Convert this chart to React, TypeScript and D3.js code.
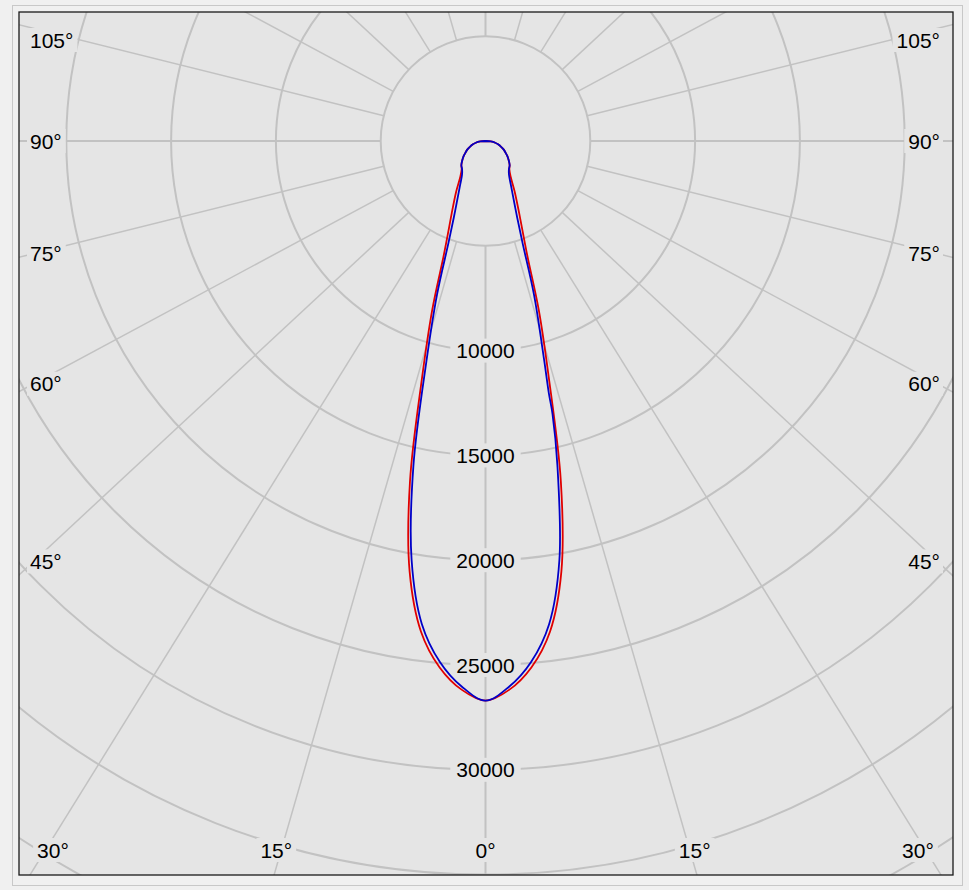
import React from 'react';
import * as d3 from 'd3';

// Gamma angles (degrees) and luminous intensities (cd) for each C-plane
const gammaDeg = [0, 2.5, 5, 7.5, 10, 12.5, 15, 17.5, 20, 22.5, 25, 30, 35, 40, 45, 50, 55, 60, 65, 70, 75, 80, 85, 90];
// red: C0 (right) / C180 (left)
const c0Values = [26700, 26200, 25200, 23600, 20850, 16600, 11650, 8450, 5850, 4600, 3800, 2780, 2100, 1770, 1630, 1450, 1280, 1100, 950, 780, 620, 470, 250, 0];
const c180Values = [26700, 26200, 25200, 23600, 20850, 16650, 11700, 8450, 5850, 4600, 3820, 2800, 2100, 1770, 1630, 1450, 1280, 1100, 950, 780, 620, 470, 250, 0];
// blue: C90 (right, with its own gamma steps) / C270 (left)
const gammaC90Deg = [0, 2.5, 5, 7.5, 10, 12.5, 13.8, 14.1, 15, 17.5, 20, 22.5, 25, 30, 35, 40, 45, 50, 55, 60, 65, 70, 75, 80, 85, 90];
const c90Values = [26700, 26050, 24950, 23250, 20300, 15850, 13400, 12400, 10800, 7700, 5150, 3950, 3250, 2420, 1950, 1740, 1630, 1450, 1280, 1100, 950, 780, 620, 470, 250, 0];
const c270Values = [26700, 26050, 24950, 23250, 20300, 15900, 10900, 7700, 5150, 3950, 3250, 2420, 1950, 1740, 1630, 1450, 1280, 1100, 950, 780, 620, 470, 250, 0];

const ringValues = [5000, 10000, 15000, 20000, 25000, 30000, 35000, 40000, 45000];
const ringLabelValues = [10000, 15000, 20000, 25000, 30000];
const rayAnglesDeg = [0, 15, 30, 45, 60, 75, 90, 105, 120, 135, 150, 165, 180, 195, 210, 225, 240, 255, 270, 285, 300, 315, 330, 345];
const sideLabelAngles = [45, 60, 75, 90, 105];
const bottomLabelAngles = [-30, -15, 0, 15, 30];

const W = 969;
const H = 890;
const plot = { x0: 19, y0: 12, x1: 953, y1: 875 };
const CX = 485.5;
const CY = 141;
const RAY_STRETCH = 1.075;
const FONT = '"Liberation Sans", Arial, sans-serif';
const FS = 21;

const rScale = d3.scaleLinear().domain([0, 5000]).range([0, 104.8]);
const rad = (d: number) => (d * Math.PI) / 180;

function planePath(gl: number[], left: number[], gr: number[], right: number[]) {
  const pts: [number, number][] = [];
  for (let i = gl.length - 1; i >= 0; i--) pts.push([Math.PI + rad(gl[i]), rScale(left[i])]);
  for (let i = 1; i < gr.length; i++) pts.push([Math.PI - rad(gr[i]), rScale(right[i])]);
  const line = d3
    .lineRadial<[number, number]>()
    .angle((d) => d[0])
    .radius((d) => d[1])
    .curve(d3.curveCatmullRom.alpha(0.5));
  return line(pts) || '';
}

function textWidth(s: string) {
  let w = 0;
  for (const ch of s) w += ch === '°' ? 0.4 : 0.556;
  return w * FS;
}

function rayDir(a: number): [number, number] {
  const dx = RAY_STRETCH * Math.sin(rad(a));
  const dy = Math.cos(rad(a));
  const n = Math.hypot(dx, dy);
  return [dx / n, dy / n];
}

export default function App() {
  const rMaxPx = 1300;
  const labelBg = '#e5e5e5';
  const labelText = (x: number, y: number, t: string, anchor: string) => (
    <text x={x} y={y} textAnchor={anchor} dominantBaseline="central" fontFamily={FONT} fontSize={FS} fill="#000">
      {t}
    </text>
  );
  return (
    <svg width={W} height={H} style={{ position: 'absolute', left: 0, top: 0 }} xmlns="http://www.w3.org/2000/svg">
      <defs>
        <clipPath id="plotClip">
          <rect x={plot.x0} y={plot.y0} width={plot.x1 - plot.x0} height={plot.y1 - plot.y0} />
        </clipPath>
      </defs>
      <rect x={0} y={0} width={W} height={H} fill="#f0f0f0" />
      <rect x={12.5} y={5.5} width={950} height={880} fill="none" stroke="#c8c8c8" strokeWidth={1} />
      <rect x={plot.x0} y={plot.y0} width={plot.x1 - plot.x0} height={plot.y1 - plot.y0} fill="#e5e5e5" />
      <g clipPath="url(#plotClip)">
        {rayAnglesDeg.map((a) => {
          const r0 = rScale(5000);
          const [ux, uy] = rayDir(a);
          return (
            <line
              key={'ray' + a}
              x1={CX + r0 * ux}
              y1={CY + r0 * uy}
              x2={CX + rMaxPx * ux}
              y2={CY + rMaxPx * uy}
              stroke="#c2c2c2"
              strokeWidth={a % 90 === 0 ? 2 : 1.5}
            />
          );
        })}
        {ringValues.map((v) => (
          <circle key={'ring' + v} cx={CX} cy={CY} r={rScale(v)} fill="none" stroke="#c2c2c2" strokeWidth={2} />
        ))}
        {ringLabelValues.map((v) => {
          const t = String(v);
          const w = textWidth(t);
          const y = CY + rScale(v);
          return (
            <g key={'rl' + v}>
              <rect x={CX - w / 2 - 6} y={y - 12} width={w + 12} height={24} fill={labelBg} />
              {labelText(CX, y, t, 'middle')}
            </g>
          );
        })}
        {sideLabelAngles.map((a) => {
          const t = a + '°';
          const w = textWidth(t);
          const rayY = CY + (CX - 53) / Math.tan(rad(a));
          const y = Math.max(plot.y0 + 28, CY + (rayY - CY) * 0.972);
          return (
            <g key={'sl' + a}>
              <rect x={27} y={y - 12} width={w + 7} height={24} fill={labelBg} />
              {labelText(30, y, t, 'start')}
              <rect x={940 - w - 4} y={y - 12} width={w + 7} height={24} fill={labelBg} />
              {labelText(940, y, t, 'end')}
            </g>
          );
        })}
        {bottomLabelAngles.map((a) => {
          const t = Math.abs(a) + '°';
          const w = textWidth(t);
          const y = 850;
          const [ux, uy] = rayDir(a);
          const rayX = CX + ((y - CY) / uy) * ux;
          let x = rayX + Math.sign(a) * 5;
          x = Math.min(918, Math.max(53, x));
          return (
            <g key={'bl' + a}>
              <rect x={x - w / 2 - 4} y={y - 12} width={w + 8} height={24} fill={labelBg} />
              {labelText(x, y, t, 'middle')}
            </g>
          );
        })}
        <g transform={`translate(${CX},${CY})`}>
          <path d={planePath(gammaDeg, c180Values, gammaDeg, c0Values)} fill="none" stroke="#e00000" strokeWidth={1.8} />
          <path d={planePath(gammaDeg, c270Values, gammaC90Deg, c90Values)} fill="none" stroke="#0000c8" strokeWidth={1.8} />
        </g>
      </g>
      <rect x={plot.x0} y={plot.y0} width={plot.x1 - plot.x0} height={plot.y1 - plot.y0} fill="none" stroke="#1a1a1a" strokeWidth={1.3} />
    </svg>
  );
}
